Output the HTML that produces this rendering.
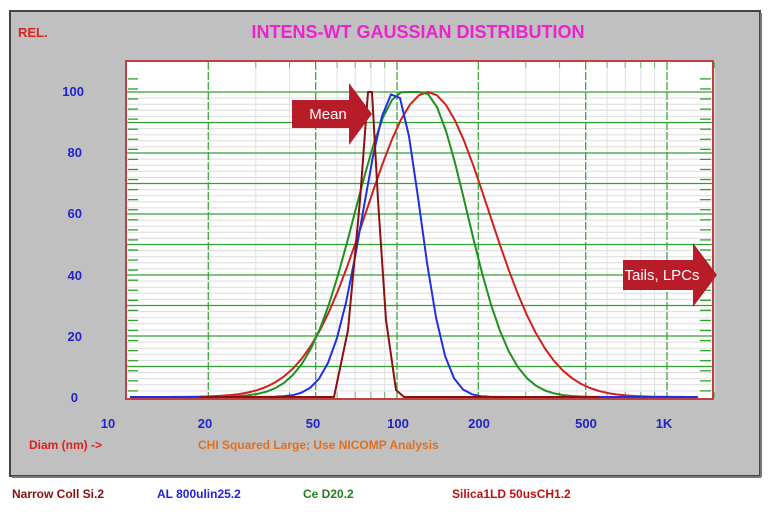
<!DOCTYPE html>
<html><head><meta charset="utf-8"><style>
body{margin:0;background:#fff;width:780px;height:511px;overflow:hidden;font-family:"Liberation Sans",sans-serif}
</style></head><body>
<svg id="s" width="780" height="511" xmlns="http://www.w3.org/2000/svg" font-family="Liberation Sans, sans-serif">
<rect x="10" y="11" width="750" height="465" fill="#c0c0c0" stroke="#444" stroke-width="2"/>
<line x1="12" y1="477" x2="761" y2="477" stroke="#777" stroke-width="2"/>
<line x1="761" y1="13" x2="761" y2="477" stroke="#777" stroke-width="2"/>
<text x="18" y="37" fill="#e02020" font-size="13" font-weight="bold">REL.</text>
<text x="418" y="38" fill="#ee22cc" font-size="18" font-weight="bold" text-anchor="middle">INTENS-WT GAUSSIAN DISTRIBUTION</text>
<rect x="126" y="61" width="587" height="338" fill="#fff" stroke="#c04040" stroke-width="2"/>
<g id="grid"></g>
<g id="curves" fill="none" stroke-width="2" stroke-linejoin="round"></g>
<g fill="#2222cc" font-size="13" font-weight="bold" text-anchor="end">
<text x="84" y="96">100</text><text x="82" y="157">80</text><text x="82" y="218">60</text><text x="82" y="280">40</text><text x="82" y="341">20</text><text x="78" y="402">0</text>
</g>
<g fill="#2222cc" font-size="13" font-weight="bold" text-anchor="middle">
<text x="108" y="428">10</text><text x="205" y="428">20</text><text x="313" y="428">50</text><text x="398" y="428">100</text><text x="479" y="428">200</text><text x="586" y="428">500</text><text x="664" y="428">1K</text>
</g>
<text x="29" y="449" fill="#e02020" font-size="12" font-weight="bold">Diam (nm) -&gt;</text>
<text x="198" y="449" fill="#e07020" font-size="12" font-weight="bold">CHI Squared Large; Use NICOMP Analysis</text>
<g font-size="12" font-weight="bold">
<text x="12" y="498" fill="#8b1010">Narrow Coll Si.2</text>
<text x="157" y="498" fill="#2222dd">AL 800ulin25.2</text>
<text x="303" y="498" fill="#208020">Ce D20.2</text>
<text x="452" y="498" fill="#c01010">Silica1LD 50usCH1.2</text>
</g>
<polygon points="292,100 349,100 349,83 372,114 349,145 349,128 292,128" fill="#b81c28"/>
<text x="328" y="119" fill="#fff" font-size="15" text-anchor="middle">Mean</text>
<polygon points="623,260 693,260 693,243 717,275 693,307 693,290 623,290" fill="#b81c28"/>
<text x="662" y="280" fill="#fff" font-size="15" text-anchor="middle">Tails, LPCs</text>
</svg>
<script>
var ns="http://www.w3.org/2000/svg";
function el(p,t,a){var e=document.createElementNS(ns,t);for(var k in a)e.setAttribute(k,a[k]);p.appendChild(e);return e;}
var g=document.getElementById('grid');
var y0=397,ys=3.05;
for(var v=2;v<=100;v+=2){var y=y0-v*ys;if(v%10==0)continue;el(g,'line',{x1:127,x2:712,y1:y,y2:y,stroke:'#dcdcdc','stroke-width':1});}
function X(d){return 127+270*Math.log10(d/10);}
var minors=[30,40,60,70,80,90,300,400,600,700,800,900,1500];
minors.forEach(function(d){var x=X(d);el(g,'line',{x1:x,x2:x,y1:62,y2:398,stroke:'#e0e0e0','stroke-width':1});el(g,'line',{x1:x,x2:x,y1:62,y2:68,stroke:'#70b070','stroke-width':1});el(g,'line',{x1:x,x2:x,y1:392,y2:398,stroke:'#70b070','stroke-width':1});});
for(var v=10;v<=100;v+=10){var y=y0-v*ys;el(g,'line',{x1:127,x2:712,y1:y,y2:y,stroke:'#30a030','stroke-width':1.3});}
[20,50,100,200,500,1000].forEach(function(d){var x=X(d);el(g,'line',{x1:x,x2:x,y1:62,y2:398,stroke:'#30a030','stroke-width':1.2,'stroke-dasharray':'8,2'});});
for(var v=2;v<=106;v+=3.3){var y=y0-v*ys;el(g,'line',{x1:128,x2:138,y1:y,y2:y,stroke:'#30a030','stroke-width':1.3});el(g,'line',{x1:700,x2:711,y1:y,y2:y,stroke:'#30a030','stroke-width':1.3});}
var c=document.getElementById('curves');
function gauss(cx,sl,sr,col,x1,x2,flat){var p=[];for(var x=x1;x<=x2;x+=9){var d=x-cx,v;if(flat&&Math.abs(d)<flat)v=1;else{d=d>0?d-(flat||0):d+(flat||0);var s=d<0?sl:sr;v=Math.exp(-d*d/(2*s*s));}p.push(x+','+(y0-100*ys*v).toFixed(1));}el(c,'polyline',{points:p.join(' '),stroke:col});}
gauss(428,62,61,'#d02020',158,698);
gauss(413,48,44,'#209020',149,644,10);
gauss(395,32,25,'#2030e0',130,698);
el(c,'polyline',{points:'200,397 334,397 348,330 360,200 368,92 372,92 378,200 386,320 396,390 404,397 600,397',stroke:'#8b1010'});
</script>
</body></html>
